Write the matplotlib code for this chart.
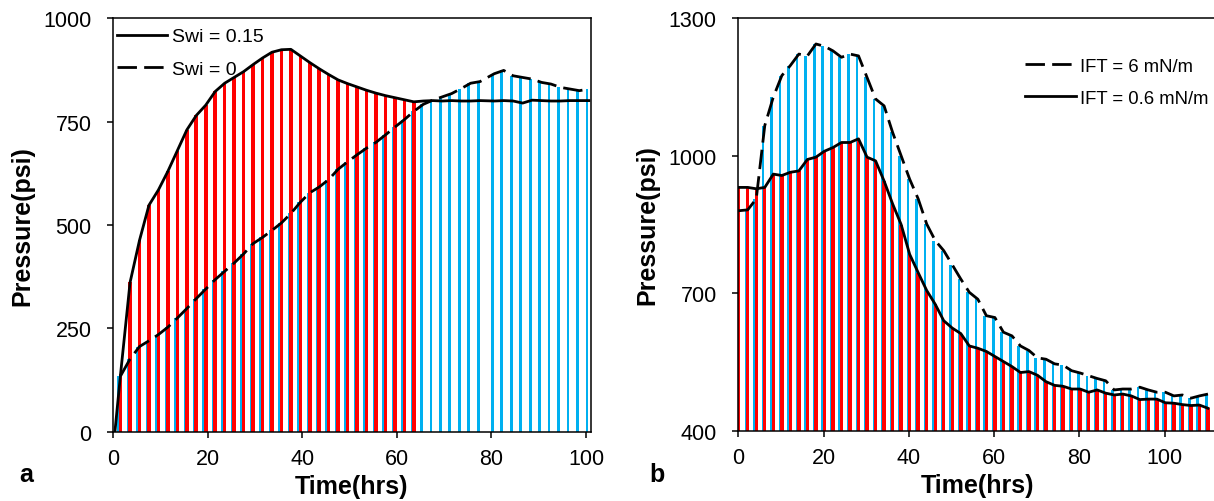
import matplotlib
matplotlib.use("Agg")
import matplotlib.pyplot as plt
import numpy as np

plt.rcParams['font.family'] = ['Liberation Sans', 'DejaVu Sans']

RED = '#FF0000'
BLUE = '#00B0F0'

# ---- panel a: Swi comparison ----
t_a = [0.4, 1.6, 3.6, 5.6, 7.6, 9.6, 11.6, 13.6, 15.6, 17.6, 19.6, 21.6, 23.6,
       25.6, 27.6, 29.6, 31.6, 33.6, 35.6, 37.6, 39.6, 41.6, 43.6, 45.6, 47.6,
       49.6, 51.6, 53.6, 55.6, 57.6, 59.6, 61.6, 63.6, 65.6, 67.6, 69.6, 71.6,
       73.6, 75.6, 77.6, 80.6, 82.6, 84.6, 86.6, 88.6, 90.6, 92.6, 94.6, 96.6,
       98.6, 100.6]
p_swi15 = [0, 140, 361, 463, 548, 585, 630, 680, 730, 765, 790, 823, 843,
           857, 871, 888, 904, 918, 924, 925, 909, 893, 878, 864, 851,
           842, 834, 826, 819, 813, 808, 803, 798, 800, 801, 800, 801,
           800, 800, 801, 800, 801, 800, 795, 802, 801, 800, 800, 801,
           801, 801]
p_swi0 = [np.nan, 135, 176, 206, 220, 235, 253, 275, 298, 322, 345, 368, 388,
          408, 430, 455, 470, 487, 505, 528, 555, 578, 592, 610, 635,
          653, 670, 686, 700, 718, 737, 755, 775, 792, 802, 810, 818,
          830, 843, 847, 866, 874, 861, 857, 853, 845, 841, 833, 829,
          825, 829]
swi15_bar_end = 64  # red columns only shown up to here

# ---- panel b: IFT comparison ----
t_b = [0, 2.2, 4.2, 6.2, 8.2, 10.2, 12.2, 14.2, 16.2, 18.2, 20.2, 22.2, 24.2,
       26.2, 28.2, 30.2, 32.2, 34.2, 36.2, 38.2, 40.2, 42.2, 44.2, 46.2, 48.2,
       50.2, 52.2, 54.2, 56.2, 58.2, 60.2, 62.2, 64.2, 66.2, 68.2, 70.2, 72.2,
       74.2, 76.2, 78.2, 80.2, 82.2, 84.2, 86.2, 88.2, 90.2, 92.2, 94.2, 96.2,
       98.2, 100.2, 102.2, 104.2, 106.2, 108.2, 110.2]
p_ift06 = [931, 931, 928, 931, 960, 957, 964, 967, 992, 997, 1010, 1018, 1029,
           1029, 1037, 997, 989, 945, 895, 850, 785, 745, 706, 676, 640,
           624, 612, 585, 580, 573, 562, 551, 540, 527, 529, 521, 507,
           499, 497, 491, 491, 484, 489, 482, 478, 480, 476, 468, 469,
           469, 461, 460, 457, 455, 456, 449]
p_ift6 = [880, 882, 906, 1066, 1128, 1175, 1197, 1222, 1218, 1244, 1239, 1229, 1215,
          1222, 1218, 1171, 1124, 1109, 1051, 1000, 949, 906, 851, 815, 793,
          762, 731, 702, 687, 651, 647, 615, 607, 585, 575, 559, 556,
          546, 543, 531, 526, 520, 514, 509, 489, 491, 491, 495, 489,
          484, 484, 476, 478, 471, 476, 480]

DASH = (0, (7, 2.6))
LW = 2.0
TICK_FS = 15.5
LABEL_FS = 18


def style_axes(ax):
    for s in ax.spines.values():
        s.set_linewidth(1.1)
        s.set_color('black')
    ax.tick_params(direction='out', length=4.5, width=1.1, labelsize=TICK_FS)
    ax.tick_params(axis='y', pad=11)
    ax.tick_params(axis='x', pad=7)
    ax.set_xlabel('Time(hrs)', fontsize=LABEL_FS, fontweight='bold', labelpad=4)
    ax.set_ylabel('Pressure(psi)', fontsize=LABEL_FS, fontweight='bold', labelpad=6.5)


fig = plt.figure(figsize=(12.14, 5.02), dpi=100)

# panel a
ax1 = fig.add_axes([0.0931, 0.138, 0.3935, 0.8235])
ta = np.array(t_a)
s15 = np.array(p_swi15, dtype=float)
s0 = np.array(p_swi0, dtype=float)
ok0 = ~np.isnan(s0)
ax1.bar(ta[ok0] - 0.4, s0[ok0], width=0.57, color=BLUE, linewidth=0, zorder=1)
red_mask = ta <= swi15_bar_end
ax1.bar(ta[red_mask], s15[red_mask], width=0.75, color=RED, linewidth=0, zorder=2)
ax1.plot(ta, s15, color='black', lw=LW, zorder=3, label='Swi = 0.15')
ax1.plot(ta, s0, color='black', lw=LW, ls=DASH, zorder=3, label='Swi = 0')
ax1.set_xlim(0, 101)
ax1.set_ylim(0, 1000)
ax1.set_xticks([0, 20, 40, 60, 80, 100])
ax1.set_yticks([0, 250, 500, 750, 1000])
style_axes(ax1)
ax1.legend(loc='upper left', bbox_to_anchor=(0.008, 0.977), frameon=False,
           fontsize=14, handlelength=2.6, handletextpad=0.25, labelspacing=0.76,
           borderpad=0, borderaxespad=0)

# panel b
ax2 = fig.add_axes([0.6082, 0.140, 0.3935, 0.8215])
tb = np.array(t_b)
ax2.bar(tb - 0.4, p_ift6, width=0.62, color=BLUE, linewidth=0, zorder=1)
ax2.bar(tb, p_ift06, width=0.8, color=RED, linewidth=0, zorder=2)
ax2.plot(tb, p_ift6, color='black', lw=LW, ls=DASH, zorder=3, label='IFT = 6 mN/m')
ax2.plot(tb, p_ift06, color='black', lw=LW, zorder=3, label='IFT = 0.6 mN/m')
ax2.set_xlim(0, 112.1)
ax2.set_ylim(400, 1300)
ax2.set_xticks([0, 20, 40, 60, 80, 100])
ax2.set_yticks([400, 700, 1000, 1300])
style_axes(ax2)
ax2.legend(loc='upper left', bbox_to_anchor=(0.600, 0.905), frameon=False,
           fontsize=13.3, handlelength=2.75, handletextpad=0.25, labelspacing=0.82,
           borderpad=0, borderaxespad=0)

fig.text(0.016, 0.04, 'a', fontsize=LABEL_FS, fontweight='bold')
fig.text(0.535, 0.04, 'b', fontsize=LABEL_FS, fontweight='bold')

fig.savefig('out.png', dpi=100)
